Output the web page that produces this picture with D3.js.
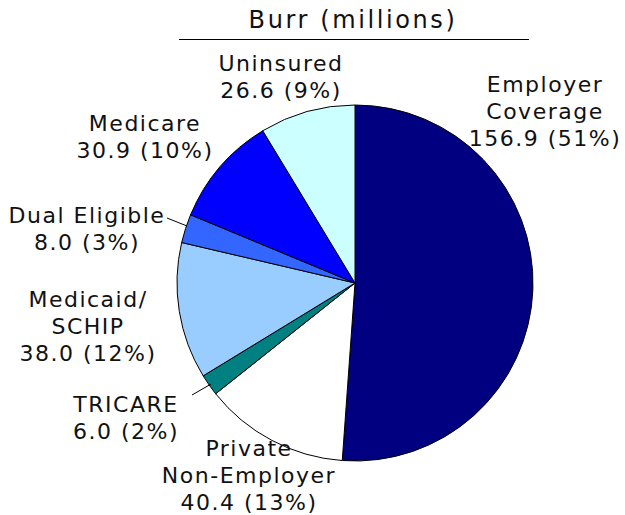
<!DOCTYPE html>
<html>
<head>
<meta charset="utf-8">
<script src="https://cdn.jsdelivr.net/npm/d3@7"></script>
<style>
  body { margin: 0; background: #fff; }
  text { font-family: "DejaVu Sans", Verdana, sans-serif; fill: #111; }
</style>
</head>
<body>
<script>
const width = 625
const height = 515

// slices clockwise from 12 o'clock
const categories = ['Employer Coverage', 'Private Non-Employer', 'TRICARE', 'Medicaid/SCHIP', 'Dual Eligible', 'Medicare', 'Uninsured']
const values = [156.9, 40.4, 6.0, 38.0, 8.0, 30.9, 26.6]
const percents = ['51%', '13%', '2%', '12%', '3%', '10%', '9%']
const labelLines = [
  ['Employer', 'Coverage'],
  ['Private', 'Non-Employer'],
  ['TRICARE'],
  ['Medicaid/', 'SCHIP'],
  ['Dual Eligible'],
  ['Medicare'],
  ['Uninsured']
]
const colors = ['#000080', '#ffffff', '#008080', '#99ccff', '#3366ff', '#0000ff', '#ccffff']

// label layout (centre x, first baseline y), relative to svg
const labelAt = [
  [545, 92], [249, 456], [126, 412], [88, 307], [87, 223], [145, 131], [281, 71]
]
// leader lines
const leaders = [
  { i: 4, from: [167, 218], to: [187, 226] },
  { i: 2, from: [192, 395], to: [211, 384] }
]

const cx = 355, cy = 283, r = 178
const lineH = 27

const svg = d3.select('body').append('svg')
  .attr('width', width)
  .attr('height', height)

// title
svg.append('text')
  .attr('x', 353)
  .attr('y', 28)
  .attr('text-anchor', 'middle')
  .style('font-size', '24px')
  .style('letter-spacing', '2.6px')
  .text('Burr (millions)')

svg.append('line')
  .attr('x1', 179).attr('x2', 529)
  .attr('y1', 39.5).attr('y2', 39.5)
  .attr('stroke', '#000')
  .attr('stroke-width', 1)

const data = categories.map((c, i) => ({ name: c, value: values[i], pct: percents[i], lines: labelLines[i], color: colors[i] }))

const pie = d3.pie().sort(null).value(d => d.value)
const arc = d3.arc().innerRadius(0).outerRadius(r)

const g = svg.append('g').attr('transform', `translate(${cx},${cy})`)

g.selectAll('path.slice')
  .data(pie(data))
  .enter()
  .append('path')
  .attr('class', 'slice')
  .attr('d', arc)
  .attr('fill', d => d.data.color)
  .attr('stroke', '#000')
  .attr('stroke-width', 1)

leaders.forEach(l => {
  svg.append('line')
    .attr('x1', l.from[0]).attr('y1', l.from[1])
    .attr('x2', l.to[0]).attr('y2', l.to[1])
    .attr('stroke', '#000')
    .attr('stroke-width', 1)
})

const labels = svg.selectAll('text.lbl')
  .data(data)
  .enter()
  .append('text')
  .attr('class', 'lbl')
  .attr('text-anchor', 'middle')
  .style('font-size', '22px')
  .style('letter-spacing', '1.5px')

labels.each(function (d, i) {
  const t = d3.select(this)
  const rows = d.lines.concat([d.value.toFixed(1) + ' (' + d.pct + ')'])
  rows.forEach((row, k) => {
    t.append('tspan')
      .attr('x', labelAt[i][0])
      .attr('y', labelAt[i][1] + k * lineH)
      .text(row)
  })
})
</script>
</body>
</html>
